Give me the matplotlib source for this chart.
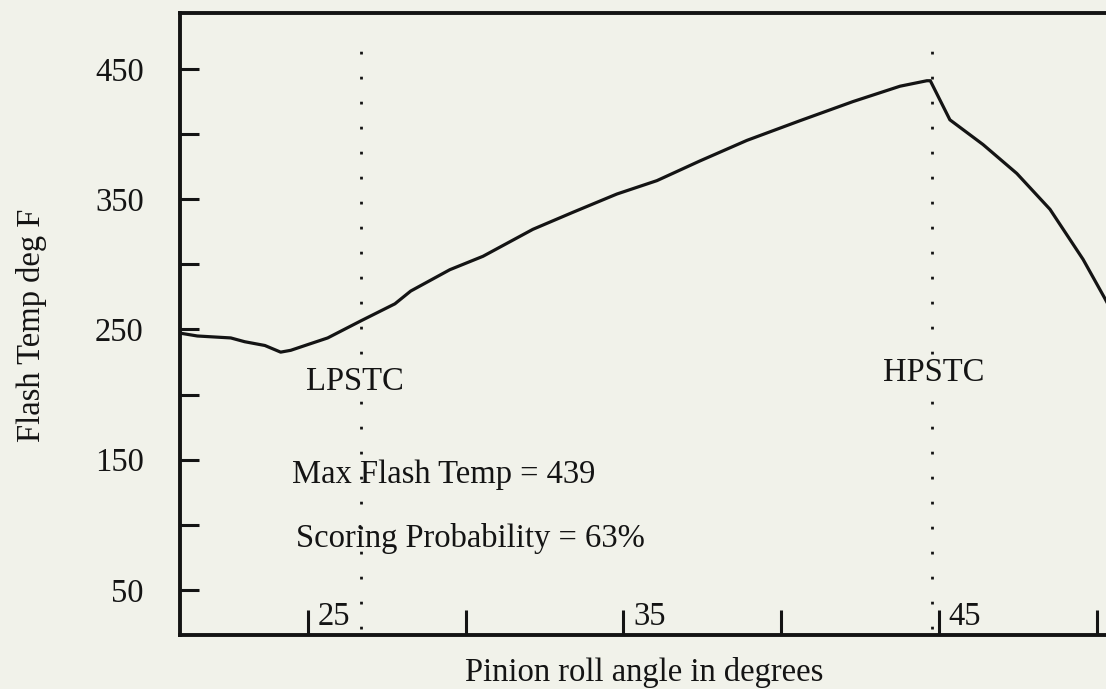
import numpy as np
import matplotlib
matplotlib.use('Agg')
import matplotlib.pyplot as plt

# 읽어낸 값들 (pinion roll angle, flash temp)
roll_angle = [21.0, 21.5, 22.56, 23.0, 23.64, 24.14, 24.46, 25.0, 25.63, 26.68,
              27.76, 28.26, 29.5, 30.55, 32.13, 33.4, 34.79, 36.06, 37.42, 38.91,
              40.59, 42.27, 43.76, 44.61, 44.72, 45.34, 46.39, 47.46, 48.51, 49.56,
              50.25, 50.6]
flash_temp = [247, 245, 243.5, 240.6, 237.7, 232.6, 234, 238.4, 243.5, 256.6,
              269.7, 279.5, 295.9, 306.2, 326.9, 340, 354, 364.3, 379.4, 395.2,
              410.3, 425, 436.8, 441, 441, 411, 392, 369.8, 342.3, 303.8,
              273.8, 258]

x_ticks = [25, 30, 35, 40, 45, 50]
x_tick_labels = ['25', '', '35', '', '45', '']
y_ticks = [50, 100, 150, 200, 250, 300, 350, 400, 450]
y_tick_labels = ['50', '', '150', '', '250', '', '350', '', '450']

lpstc = 26.68
hpstc = 44.77
max_flash = 439
scoring_prob = 63

bg = '#f1f2ea'
ink = '#141414'
fs = 23.5
plt.rcParams['font.family'] = ['Liberation Serif', 'DejaVu Serif']

fig = plt.figure(figsize=(11.06, 6.89), dpi=100, facecolor=bg)
ax = fig.add_axes([0.1627, 0.0784, 0.8577, 0.9027], facecolor=bg)

ax.plot(roll_angle, flash_temp, color=ink, linewidth=2.3)

# LPSTC / HPSTC 점선
for xv in (lpstc, hpstc):
    ax.axvline(xv, ymin=0.01, ymax=0.96, color=ink, linewidth=2.0,
               linestyle=(0, (1, 8)))

ax.text(26.5, 210, 'LPSTC', fontsize=fs, ha='center', va='center', color=ink,
        bbox=dict(facecolor=bg, edgecolor='none', pad=1))
ax.text(44.82, 217, 'HPSTC', fontsize=fs, ha='center', va='center', color=ink,
        bbox=dict(facecolor=bg, edgecolor='none', pad=1))
ax.text(24.49, 132, f'Max Flash Temp = {max_flash}', fontsize=fs,
        ha='left', va='baseline', color=ink)
ax.text(24.62, 83, f'Scoring Probability = {scoring_prob}%', fontsize=fs,
        ha='left', va='baseline', color=ink)

ax.set_xlim(20.95, 51)
ax.set_ylim(15.4, 493)

ax.set_xticks(x_ticks)
ax.set_xticklabels([])
for xv, lab in zip(x_ticks, x_tick_labels):
    if lab:
        ax.text(xv + 0.3, 23, lab, fontsize=fs, ha='left', va='baseline', color=ink)
ax.set_yticks(y_ticks)
ax.set_yticklabels(y_tick_labels, fontsize=fs, color=ink)

ax.tick_params(axis='x', direction='in', length=18, width=2.2, color=ink)
ax.tick_params(axis='y', direction='in', length=14, width=2.2, color=ink, pad=26)

for s in ax.spines.values():
    s.set_linewidth(2.8)
    s.set_color(ink)

ax.set_xlabel('Pinion roll angle in degrees', fontsize=fs, color=ink)
ax.xaxis.set_label_coords(0.489, -0.035)
ax.set_ylabel('Flash Temp deg F', fontsize=fs, color=ink)
ax.yaxis.set_label_coords(-0.14, 0.498)

fig.savefig('out.png', dpi=100, facecolor=bg)
